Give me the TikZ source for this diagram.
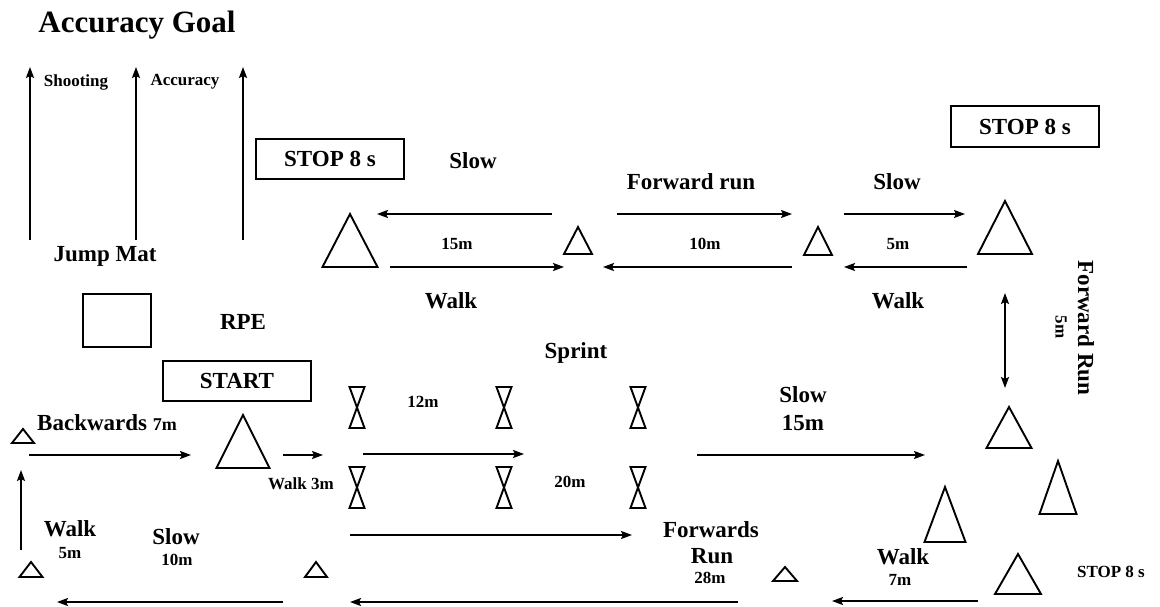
\documentclass[tikz,border=0pt]{standalone}
\usepackage{fontspec}
\setmainfont{Liberation Serif}
\usetikzlibrary{arrows.meta}

\tikzset{
  cone/.style={line width=1.9pt, line join=miter},
  run/.style={line width=1.9pt, -{Stealth[length=11pt,width=8pt,inset=2pt]}},
  twoway/.style={line width=1.9pt, {Stealth[length=11pt,width=8pt,inset=2pt]}-{Stealth[length=11pt,width=8pt,inset=2pt]}},
  sign/.style={draw, line width=1.9pt, minimum width=148pt, minimum height=40pt, inner sep=0pt},
  big/.style={font=\bfseries\fontsize{23}{25}\selectfont, inner sep=0pt},
  small/.style={font=\bfseries\fontsize{17}{19}\selectfont, inner sep=0pt},
}

\begin{document}
\begin{tikzpicture}[x=1pt,y=-1pt]
\useasboundingbox (0,0) rectangle (1160,607);

\node[inner sep=0pt, anchor=base, font=\bfseries\fontsize{31}{33}\selectfont] (goal) at (137,33) {Accuracy Goal};

% shooting lanes
\coordinate (lane1b) at (30,240);  \coordinate (lane1t) at (30,67);
\coordinate (lane2b) at (136,240); \coordinate (lane2t) at (136,67);
\coordinate (lane3b) at (243,240); \coordinate (lane3t) at (243,67);
\draw[run] (lane1b) -- (lane1t);
\draw[run] (lane2b) -- (lane2t);
\draw[run] (lane3b) -- (lane3t);
\node[small] (shoot) at (76,82) {Shooting};
\node[small] (accu) at (185,82) {Accuracy};

\node[big] (jumplbl) at (105,256) {Jump Mat};
\node[draw, line width=1.9pt, minimum width=68pt, minimum height=53pt] (mat) at (117,320.5) {};
\node[big] (rpe) at (243,322) {RPE};

\node[sign, big] (stop1) at (330,159) {STOP 8 s};
\node[sign, big, minimum height=41pt] (stop2) at (1025,126.5) {STOP 8 s};
\node[sign, big] (start) at (237,381) {START};

% cones: apex x / top y / base y / half width
\foreach \ax/\ty/\by/\hw in {23/429/443/11, 243/415/468/26.5, 31/562/577/11.5,
    316/562/577/11, 785/567/581/12, 1009/407/448/22.5, 1058/461/514/18.5,
    945/487/542/20.5, 1018/554/594/23, 350/214/267/27.5, 578/227/254/14,
    818/227/255/14, 1005/201/254/27}
  \draw[cone] (\ax,\ty) -- (\ax+\hw,\by) -- (\ax-\hw,\by) -- cycle;

% sprint gates
\foreach \gx in {357,504,638}
  \foreach \gy in {387,467}
    \draw[cone] (\gx-7.5,\gy) -- (\gx+7.5,\gy) -- (\gx-7.5,\gy+41) -- (\gx+7.5,\gy+41) -- cycle;

% top loop
\coordinate (s1a) at (552,214); \coordinate (s1b) at (377,214);
\coordinate (w1a) at (390,267); \coordinate (w1b) at (564,267);
\coordinate (f1a) at (617,214); \coordinate (f1b) at (792,214);
\coordinate (r1a) at (792,267); \coordinate (r1b) at (603,267);
\coordinate (s2a) at (844,214); \coordinate (s2b) at (965,214);
\coordinate (w2a) at (967,267); \coordinate (w2b) at (844,267);
\draw[run] (s1a) -- (s1b);
\draw[run] (w1a) -- (w1b);
\draw[run] (f1a) -- (f1b);
\draw[run] (r1a) -- (r1b);
\draw[run] (s2a) -- (s2b);
\draw[run] (w2a) -- (w2b);
\node[big] (slow1) at (473,161) {Slow};
\node[small] (d15) at (457,244) {15m};
\node[big] (walk1) at (451,301) {Walk};
\node[big] (fwd1) at (691,182) {Forward run};
\node[small] (d10) at (705,244) {10m};
\node[big] (slow2) at (897,182) {Slow};
\node[small] (d5) at (898,244) {5m};
\node[big] (walk2) at (898,301) {Walk};

\coordinate (fr1) at (1005,293); \coordinate (fr2) at (1005,388);
\draw[twoway] (fr1) -- (fr2);
\node[big, rotate=-90] (fwd2) at (1086,328) {Forward Run};
\node[small, rotate=-90] (d5b) at (1061,327) {5m};

% lower course
\coordinate (bk1) at (29,455);  \coordinate (bk2) at (191,455);
\coordinate (wk1) at (283,455); \coordinate (wk2) at (323,455);
\coordinate (sp1) at (363,454); \coordinate (sp2) at (524,454);
\coordinate (sl1) at (697,455); \coordinate (sl2) at (925,455);
\coordinate (sp3) at (350,535); \coordinate (sp4) at (632,535);
\coordinate (up1) at (21,550);  \coordinate (up2) at (21,470);
\draw[run] (bk1) -- (bk2);
\draw[run] (wk1) -- (wk2);
\draw[run] (sp1) -- (sp2);
\draw[run] (sl1) -- (sl2);
\draw[run] (sp3) -- (sp4);
\draw[run] (up1) -- (up2);

\node[big, anchor=west] (bwd) at (37,423) {Backwards \fontsize{18}{20}\selectfont 7m};
\node[small] (wk3) at (301,484) {Walk 3m};
\node[big] (sprint) at (576,353) {Sprint};
\node[small] (d12) at (423,402) {12m};
\node[small] (d20) at (570,482) {20m};
\node[big] (slow3) at (803,395) {Slow};
\node[big] (d15b) at (803,423) {15m};
\node[big] (walk3) at (70,529) {Walk};
\node[small] (d5c) at (70,553) {5m};
\node[big] (slow4) at (176,537) {Slow};
\node[small] (d10b) at (177,560) {10m};
\node[big] (fwd3) at (711,530) {Forwards};
\node[big] (run3) at (712,556) {Run};
\node[small] (d28) at (710,578) {28m};
\node[big] (walk4) at (903,557) {Walk};
\node[small] (d7) at (900,580) {7m};
\node[small] (stop3) at (1111,572) {STOP 8 s};

% return line
\coordinate (rt1) at (978,601); \coordinate (rt2) at (832,601);
\coordinate (rt3) at (738,602); \coordinate (rt4) at (350,602);
\coordinate (rt5) at (283,602); \coordinate (rt6) at (57,602);
\draw[run] (rt1) -- (rt2);
\draw[run] (rt3) -- (rt4);
\draw[run] (rt5) -- (rt6);
\end{tikzpicture}
\end{document}
